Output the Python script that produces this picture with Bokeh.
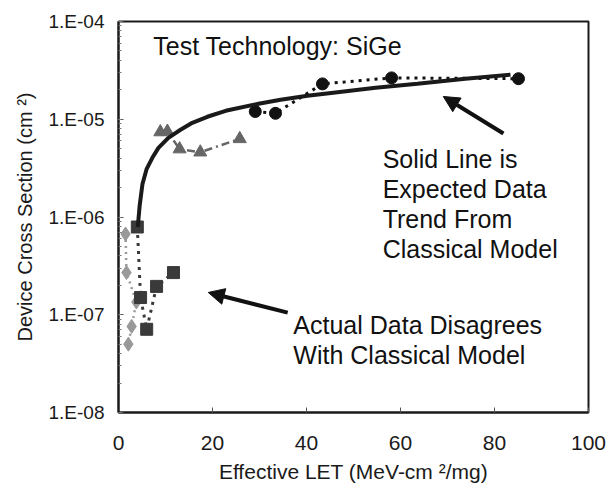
from bokeh.plotting import figure
from bokeh.models import (Range1d, FixedTicker, CustomJSTickFormatter, Label,
                          Arrow, NormalHead)
from bokeh.embed import file_html
from bokeh.resources import INLINE

# Effective LET (MeV-cm^2/mg) and device cross section (cm^2)
circle_let = [29.1, 33.4, 43.4, 58.1, 85.1]
circle_xs = [1.2e-5, 1.15e-5, 2.3e-5, 2.65e-5, 2.6e-5]

triangle_let = [8.9, 10.4, 13.0, 17.4, 25.8]
triangle_xs = [7.4e-6, 7.5e-6, 4.95e-6, 4.6e-6, 6.3e-6]

square_let = [4.0, 4.7, 6.0, 8.1, 11.7]
square_xs = [7.9e-7, 1.5e-7, 7.1e-8, 1.95e-7, 2.7e-7]

diamond_let = [1.5, 1.7, 3.8, 2.8, 2.1]
diamond_xs = [6.7e-7, 2.7e-7, 1.35e-7, 7.6e-8, 5.0e-8]

# classical model trend
model_let = [4.1, 4.5, 5.1, 6.0, 7.2, 8.5, 10.6, 13.2, 15.7, 18.9, 22.8,
             29.8, 34.5, 40.2, 45.7, 54.7, 63.6, 73.8, 83.4]
model_xs = [7.9e-7, 1.30e-6, 2.18e-6, 3.11e-6, 4.03e-6, 5.10e-6, 6.46e-6,
            7.80e-6, 9.2e-6, 1.06e-5, 1.22e-5, 1.44e-5, 1.58e-5, 1.74e-5,
            1.87e-5, 2.10e-5, 2.31e-5, 2.60e-5, 2.86e-5]

x_ticks = [0, 20, 40, 60, 80, 100]

FONT = "Liberation Sans"

p = figure(width=607, height=489, output_backend="svg", toolbar_location=None,
           y_axis_type="log",
           x_range=Range1d(0, 100), y_range=Range1d(1e-8, 1e-4),
           min_border_left=118, min_border_right=19,
           min_border_top=21, min_border_bottom=77)
p.background_fill_color = "white"
p.border_fill_color = "white"
p.outline_line_color = "#1a1a1a"
p.outline_line_width = 2
p.grid.visible = False

# axes
xa = p.xaxis[0]
xa.ticker = FixedTicker(ticks=x_ticks)
xa.axis_label = "Effective LET (MeV-cm \u00b2/mg)"
xa.major_tick_in = 5
xa.major_tick_out = 0
xa.major_label_standoff = 23
xa.axis_label_standoff = 7

ya = p.yaxis[0]
ya.formatter = CustomJSTickFormatter(code="""
    const e = Math.round(Math.log10(tick));
    const s = e < 0 ? "-" : "+";
    return "1.E" + s + String(Math.abs(e)).padStart(2, "0");
""")
ya.axis_label = "Device Cross Section (cm \u00b2)"
ya.major_tick_in = 5
ya.major_tick_out = 0
ya.minor_tick_in = 3
ya.minor_tick_out = 0
ya.major_label_standoff = 14
ya.axis_label_standoff = 10

for ax in (xa, ya):
    ax.axis_line_color = "#1a1a1a"
    ax.axis_line_width = 2
    ax.major_tick_line_color = "#555555"
    ax.major_label_text_font = FONT
    ax.major_label_text_color = "#1a1a1a"
    ax.axis_label_text_font = FONT
    ax.axis_label_text_font_style = "normal"
    ax.axis_label_text_color = "#1a1a1a"
xa.minor_tick_line_color = None
ya.minor_tick_line_color = "#777777"
xa.major_label_text_font_size = "21px"
ya.major_label_text_font_size = "19px"
xa.axis_label_text_font_size = "21px"
ya.axis_label_text_font_size = "20px"

# measured series with connecting lines
p.line(diamond_let, diamond_xs, line_color="#9a9a9a", line_width=2.5,
       line_dash="2 4")
p.scatter(diamond_let, diamond_xs, marker="diamond", size=14,
          fill_color="#999999", line_color="#999999")

p.line(square_let, square_xs, line_color="#3a3a3a", line_width=3,
       line_dash="3 5")
p.scatter(square_let, square_xs, marker="square", size=12,
          fill_color="#3a3a3a", line_color="#3a3a3a")

p.line(triangle_let, triangle_xs, line_color="#666666", line_width=2.5,
       line_dash="8 4 2 4")
p.scatter(triangle_let, triangle_xs, marker="triangle", size=13,
          fill_color="#666666", line_color="#666666")

p.line(circle_let, circle_xs, line_color="#111111", line_width=3,
       line_dash="3 5")
p.scatter(circle_let, circle_xs, marker="circle", size=12,
          fill_color="#111111", line_color="#111111")

# classical model curve
p.line(model_let, model_xs, line_color="#1a1a1a", line_width=4)

# annotations
def add_text(x, y, lines, size="25px"):
    for i, t in enumerate(lines):
        p.add_layout(Label(x=x, y=y, text=t, y_offset=-30 * i,
                           text_font=FONT, text_font_size=size,
                           text_color="#111111", text_baseline="top",
                           text_align="left"))

add_text(7.4, 7.9e-5, ["Test Technology: SiGe"])
add_text(56.2, 5.46e-6, ["Solid Line is", "Expected Data", "Trend From",
                         "Classical Model"])
add_text(37.2, 1.09e-7, ["Actual Data Disagrees", "With Classical Model"])

p.add_layout(Arrow(x_start=81.9, y_start=7.15e-6, x_end=69.1, y_end=1.71e-5,
                   line_width=4, line_color="#111111",
                   end=NormalHead(size=16, fill_color="#111111",
                                  line_color="#111111")))
p.add_layout(Arrow(x_start=36.0, y_start=1.05e-7, x_end=19.1, y_end=1.69e-7,
                   line_width=4, line_color="#111111",
                   end=NormalHead(size=16, fill_color="#111111",
                                  line_color="#111111")))

open("out.html", "w").write(file_html(p, INLINE))
